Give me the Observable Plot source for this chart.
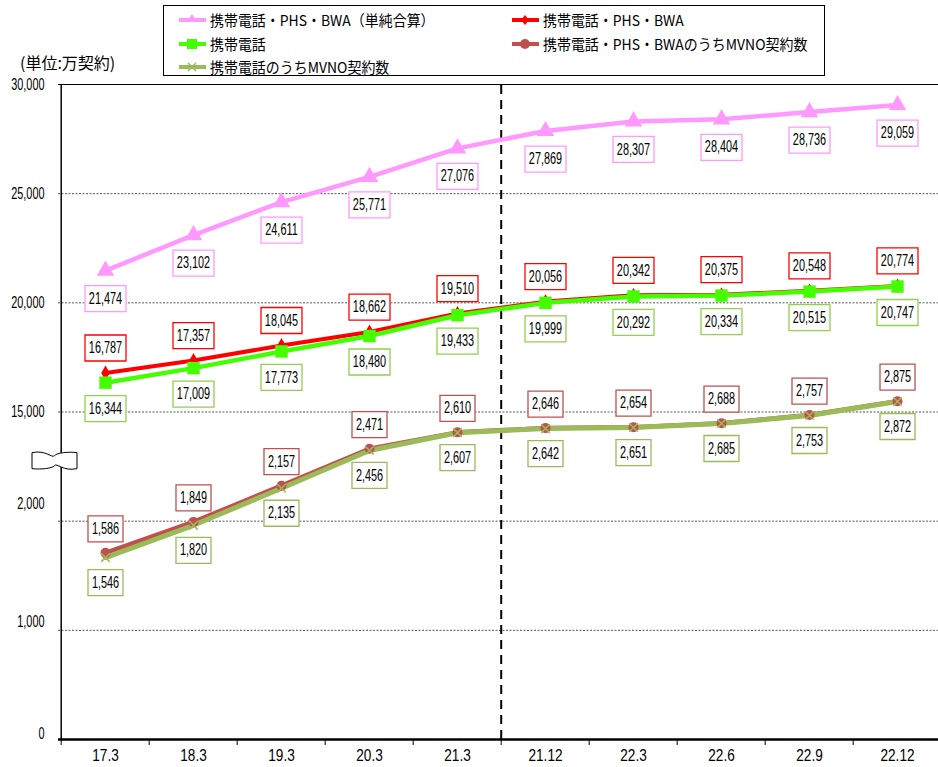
<!DOCTYPE html>
<html><head><meta charset="utf-8">
<script src="https://cdn.jsdelivr.net/npm/d3@7"></script>
<script src="https://cdn.jsdelivr.net/npm/@observablehq/plot@0.6"></script>
<style>
body{margin:0;background:#fff;}
#wrap{position:relative;width:938px;height:767px;overflow:hidden;background:#fff;}
#chart{position:absolute;left:0;top:0;}
#legend{position:absolute;left:163px;top:5px;width:660px;height:69px;border:1.5px solid #000;background:#fff;font-family:"Noto Sans CJK JP",sans-serif;font-size:15px;color:#000;}
.item{position:absolute;height:20px;display:flex;align-items:center;white-space:nowrap;}
.item svg{flex:none;margin-right:4px;}
.item span{display:inline-block;transform:scaleX(0.93);transform-origin:left center;line-height:20px;}
#unit{position:absolute;left:20px;top:52px;font-family:"Noto Sans CJK JP",sans-serif;font-size:16px;white-space:nowrap;line-height:20px;}
</style>
</head><body>
<div id="wrap">
  <div id="chart"></div>
  <div id="unit">(単位:万契約)</div>
  <div id="legend"></div>
</div>
<script>
(function(){
// ---- data ----
const categories = ["17.3","18.3","19.3","20.3","21.3","21.12","22.3","22.6","22.9","22.12"];
const totalSimple  = [21474,23102,24611,25771,27076,27869,28307,28404,28736,29059]; // 携帯電話・PHS・BWA（単純合算）
const mobilePhsBwa = [16787,17357,18045,18662,19510,20056,20342,20375,20548,20774]; // 携帯電話・PHS・BWA
const mobile       = [16344,17009,17773,18480,19433,19999,20292,20334,20515,20747]; // 携帯電話
const mvnoPhsBwa   = [1586,1849,2157,2471,2610,2646,2654,2688,2757,2875];           // 携帯電話・PHS・BWAのうちMVNO契約数
const mvnoMobile   = [1546,1820,2135,2456,2607,2642,2651,2685,2753,2872];           // 携帯電話のうちMVNO契約数
const seriesNames = ["携帯電話・PHS・BWA（単純合算）","携帯電話・PHS・BWA","携帯電話","携帯電話・PHS・BWAのうちMVNO契約数","携帯電話のうちMVNO契約数"];
const upperTicks = [15000,20000,25000,30000];
const upperTickLabels = ["15,000","20,000","25,000","30,000"];
const lowerTicks = [1000,2000];
const lowerTickLabels = ["1,000","2,000"];
const zeroTickLabel = "0";
const gridValues = [5000,10000,15000,20000,25000];
const lowerFactor = 5.39; // lower (MVNO) section drawn magnified below the axis break

// ---- styles ----
const C = {
  total:"#ff99ff", red:"#ff0000", green:"#44ff00", brown:"#c0504d", olive:"#9bbb59",
  greenBox:"#92d050"
};
const numFont = '"Liberation Sans", Arial, sans-serif';

const rows = (vals, scale=1) => categories.map((c,i)=>({cat:c, v:vals[i], y:vals[i]*scale, label:d3.format(",")(vals[i])}));
const dTotal = rows(totalSimple), dRed = rows(mobilePhsBwa), dGreen = rows(mobile);
const dBrown = rows(mvnoPhsBwa, lowerFactor), dOlive = rows(mvnoMobile, lowerFactor);

const xLeft = 58, xRight = 944;
const step = (xRight - xLeft) / categories.length;
const boxSym = (w,h) => ({draw(ctx){ctx.moveTo(-w/2,-h/2);ctx.lineTo(w/2,-h/2);ctx.lineTo(w/2,h/2);ctx.lineTo(-w/2,h/2);ctx.closePath();}});
const wideBox = boxSym(41,26), narrowBox = boxSym(35,26);

const labels = (data, color, dy, sym) => [
  Plot.dot(data, {x:"cat", y:"y", symbol:sym, fill:"white", stroke:color, strokeWidth:1.3, dy}),
  Plot.text(data, {x:"cat", y:"y", text:"label", dy, fill:"#000", fontSize:16})
];

const tickMap = new Map([
  ...lowerTicks.map((t,i)=>[t*lowerFactor, lowerTickLabels[i]]),
  ...upperTicks.map((t,i)=>[t, upperTickLabels[i]])
]);

const chart = Plot.plot({
  width: 938, height: 767,
  marginTop: 84, marginBottom: 28, marginLeft: 58, marginRight: 0,
  style: {fontFamily: numFont, fontSize: "16px", background: "transparent", color: "#000"},
  x: {type:"point", domain: categories, range:[xLeft, xRight], padding:0.5, label:null},
  y: {domain:[0,30000], range:[739,84], label:null},
  marks: [
    Plot.ruleY(gridValues, {stroke:"#555", strokeWidth:1, strokeDasharray:"2,1.5"}),
    Plot.ruleY([30000], {stroke:"#000", strokeWidth:1.2}),
    Plot.ruleX([categories[0]], {y1:0, y2:30000, dx:-step/2, stroke:"#000", strokeWidth:1.5}),
    Plot.ruleX([categories[5]], {y1:0, y2:30000, dx:-step/2, stroke:"#000", strokeWidth:2, strokeDasharray:"9,6"}),
    Plot.ruleY([0], {stroke:"#000", strokeWidth:2.5}),
    Plot.axisX({tickSize:6, tickFormat:()=>"", dx:-step/2, stroke:"#000", label:null}),
    Plot.axisX({tickSize:0, tickPadding:10, fontSize:16, label:null}),
    Plot.axisY({ticks:[...tickMap.keys()], tickFormat:d=>tickMap.get(d), tickSize:0, tickPadding:14, fontSize:16, label:null}),
    Plot.axisY({ticks:[0], tickFormat:()=>zeroTickLabel, tickSize:0, tickPadding:14, fontSize:16, dy:-6, label:null}),
    // lines
    Plot.line(dTotal, {x:"cat", y:"y", stroke:C.total, strokeWidth:4.5}),
    Plot.line(dRed, {x:"cat", y:"y", stroke:C.red, strokeWidth:4}),
    Plot.line(dGreen, {x:"cat", y:"y", stroke:C.green, strokeWidth:4.5}),
    Plot.line(dBrown, {x:"cat", y:"y", stroke:C.brown, strokeWidth:4.5}),
    Plot.line(dOlive, {x:"cat", y:"y", stroke:C.olive, strokeWidth:5}),
    // markers
    Plot.dot(dTotal, {x:"cat", y:"y", symbol:"triangle", fill:C.total, r:6.5}),
    Plot.dot(dRed, {x:"cat", y:"y", symbol:"diamond", fill:C.red, r:4.5}),
    Plot.dot(dGreen, {x:"cat", y:"y", symbol:"square", fill:C.green, r:7}),
    Plot.dot(dBrown, {x:"cat", y:"y", symbol:"circle", fill:C.brown, r:5}),
    Plot.dot(dOlive, {x:"cat", y:"y", symbol:"times", stroke:C.olive, strokeWidth:1.5, r:4}),
    // data labels
    ...labels(dTotal, C.total, 28, wideBox),
    ...labels(dRed, C.red, -25, wideBox),
    ...labels(dGreen, C.greenBox, 26, wideBox),
    ...labels(dBrown, C.brown, -24, narrowBox),
    ...labels(dOlive, C.olive, 25, narrowBox)
  ]
});
document.getElementById("chart").appendChild(chart);

// condensed numerals (horizontal squeeze around each text anchor)
d3.select(chart).selectAll("text").each(function(){
  const inX = this.closest('g[aria-label="x-axis tick label"]');
  const s = inX ? 0.85 : 0.68;
  const t = this.getAttribute("transform");
  if (t) this.setAttribute("transform", t + ` scale(${s},1)`);
  else {
    const x = +(this.getAttribute("x")||0);
    this.setAttribute("x", 0);
    this.setAttribute("transform", `translate(${x},0) scale(${s},1)`);
  }
});

// axis break symbol on the y axis
const ys = chart.scale("y");
const yc = ys.apply(12750);
const bx0 = 32, bx1 = 77, bh = 16;
const bTop = yc - bh/2, bBot = yc + bh/2, bm = (bx0+bx1)/2;
d3.select(chart).append("path")
  .attr("d", `M${bx0},${bTop} C${bx0+14},${bTop-3} ${bx0+20},${bTop+6} ${bm},${bTop+3} S${bx1-8},${bTop-1} ${bx1},${bTop} L${bx1},${bBot} C${bx1-14},${bBot+3} ${bx1-20},${bBot-6} ${bm},${bBot-3} S${bx0+8},${bBot+1} ${bx0},${bBot} Z`)
  .attr("fill","#fff").attr("stroke","#000").attr("stroke-width",1);

// legend
const legendItems = [
  {name:seriesNames[0], color:C.total, sym:"triangle", col:0, row:0},
  {name:seriesNames[1], color:C.red, sym:"diamond", col:1, row:0},
  {name:seriesNames[2], color:C.green, sym:"square", col:0, row:1},
  {name:seriesNames[3], color:C.brown, sym:"circle", col:1, row:1},
  {name:seriesNames[4], color:C.olive, sym:"times", col:0, row:2}
];
const lg = document.getElementById("legend");
const symPath = {
  triangle: c => `<path d="M13,4 L18,12 L8,12 Z" fill="${c}"/>`,
  diamond: c => `<path d="M13,5 L17,10 L13,15 L9,10 Z" fill="${c}"/>`,
  square: c => `<rect x="8" y="5" width="10" height="10" fill="${c}"/>`,
  circle: c => `<circle cx="13" cy="10" r="5" fill="${c}"/>`,
  times: c => `<path d="M9,6 L17,14 M17,6 L9,14" stroke="${c}" stroke-width="1.5"/>`
};
legendItems.forEach(it=>{
  const d = document.createElement("div");
  d.className = "item";
  d.style.left = (it.col ? 348 : 15) + "px";
  d.style.top = (4 + it.row*23.5) + "px";
  d.innerHTML = `<svg width="27" height="20"><line x1="0" y1="10" x2="27" y2="10" stroke="${it.color}" stroke-width="4"/>${symPath[it.sym](it.color)}</svg><span>${it.name}</span>`;
  lg.appendChild(d);
});
})();
</script>
</body></html>
